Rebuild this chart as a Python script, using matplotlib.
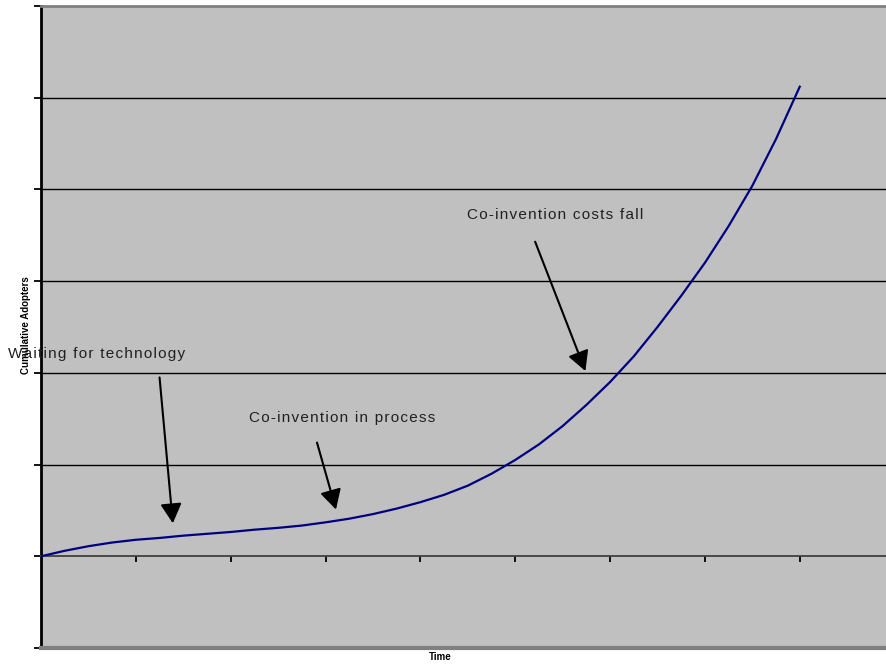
import matplotlib
matplotlib.use("Agg")
import matplotlib.pyplot as plt

# ==========================
# DATA
# ==========================

time_pts = [0, 0.25, 0.5, 0.75, 1, 1.25, 1.5, 1.75, 2, 2.25, 2.5, 2.75,
            3, 3.25, 3.5, 3.75, 4, 4.25, 4.5, 4.75, 5, 5.25, 5.5, 5.75,
            6, 6.25, 6.5, 6.75, 7, 7.25, 7.5, 7.75, 8]
adopters = [0, 0.06, 0.11, 0.15, 0.18, 0.20, 0.225, 0.245, 0.265, 0.29,
            0.31, 0.335, 0.37, 0.41, 0.46, 0.52, 0.59, 0.67, 0.77, 0.90,
            1.05, 1.22, 1.42, 1.65, 1.90, 2.18, 2.50, 2.84, 3.20, 3.60,
            4.04, 4.55, 5.12]

x_ticks = [1, 2, 3, 4, 5, 6, 7, 8]
y_ticks = [-1, 0, 1, 2, 3, 4, 5, 6]
grid_levels = [1, 2, 3, 4, 5]

note_texts = ["Waiting for technology", "Co-invention in process",
              "Co-invention costs fall"]
note_pos = [(-0.35, 2.21), (2.19, 1.51), (4.49, 3.72)]
arrow_start = [(1.25, 1.95), (2.91, 1.24), (5.21, 3.43)]
arrow_tip = [(1.39, 0.36), (3.11, 0.51), (5.74, 2.02)]


def spaced(s):
    return "\u200a".join(s)


# ==========================
# FIGURE
# ==========================

plt.rcParams["font.family"] = ["Liberation Sans", "DejaVu Sans"]

fig = plt.figure(figsize=(8.87, 6.68), dpi=100)
ax = fig.add_axes([41 / 887, 1 - 648 / 668, 1 - 41 / 887, 642 / 668])
ax.set_facecolor("#c0c0c0")

ax.set_xlim(0, 8.92)
ax.set_ylim(-1, 6)

for g in grid_levels:
    ax.axhline(g, color="black", lw=1.0, zorder=1)

ax.plot(time_pts, adopters, color="#000080", lw=1.6, zorder=3,
        solid_joinstyle="round")

# spines
ax.spines["right"].set_visible(False)
ax.spines["top"].set_color("#808080")
ax.spines["top"].set_linewidth(2)
ax.spines["left"].set_color("black")
ax.spines["left"].set_linewidth(2)
ax.spines["bottom"].set_position(("data", 0))
ax.spines["bottom"].set_color("#404040")
ax.spines["bottom"].set_linewidth(1.3)
ax.axhline(-1, color="#808080", lw=3, clip_on=False, zorder=5)

ax.set_xticks(x_ticks)
ax.set_xticklabels([])
ax.set_yticks(y_ticks)
ax.set_yticklabels([])
ax.tick_params(axis="x", direction="out", length=4, width=1.3, color="black")
ax.tick_params(axis="y", direction="out", length=5, width=1.3, color="black")

# annotations
for text, pos in zip(note_texts, note_pos):
    ax.text(pos[0], pos[1], spaced(text), fontsize=11, color="#202020",
            ha="left", va="center", clip_on=False, zorder=6)

for start, tip in zip(arrow_start, arrow_tip):
    ax.annotate(
        "",
        xy=tip,
        xytext=start,
        arrowprops=dict(arrowstyle="-|>,head_length=1.2,head_width=0.65",
                        color="black", lw=1.5, shrinkA=0, shrinkB=0),
        zorder=6,
    )

fig.text(440 / 887, 1 - 657 / 668, "Time", fontsize=7, fontweight="bold",
         ha="center", va="center")
fig.text(26 / 887, 1 - 325 / 668, "Cumulative Adopters", fontsize=7,
         fontweight="bold", rotation=90, ha="center", va="center")

fig.savefig("out.png", dpi=100)
